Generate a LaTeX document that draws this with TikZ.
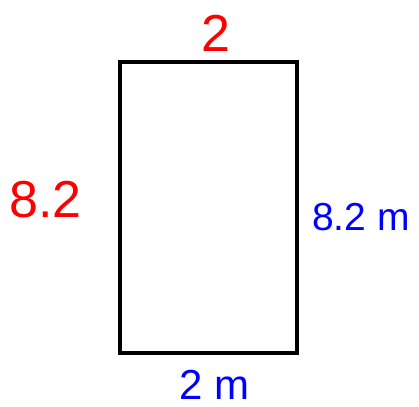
\documentclass[tikz,border=0pt]{standalone}
\usepackage{fontspec}
\setmainfont{Liberation Sans}
\definecolor{hand}{RGB}{255,0,0}
\definecolor{lab}{RGB}{0,0,255}
\tikzset{
  handlbl/.style={text=hand, inner sep=0pt, font=\fontsize{52}{60}\selectfont},
  bluelbl/.style={text=lab, inner sep=0pt},
}
\begin{document}
\begin{tikzpicture}[x=1pt,y=-1pt]
\useasboundingbox (0,0) rectangle (419,406);
\node[draw=black, line width=4pt, minimum width=176.5pt, minimum height=291pt, inner sep=0pt] (box) at (208.25,207.5) {};
\node[handlbl, anchor=base] (top) at (216,52) {2};
\node[handlbl, anchor=base west] (left) at (9,217) {8.2};
\node[bluelbl, anchor=base west, font=\fontsize{39}{46}\selectfont] (right) at (312,230) {8.2 m};
\node[bluelbl, anchor=base west, font=\fontsize{42}{50}\selectfont] (bottom) at (179,399) {2 m};
\end{tikzpicture}
\end{document}
